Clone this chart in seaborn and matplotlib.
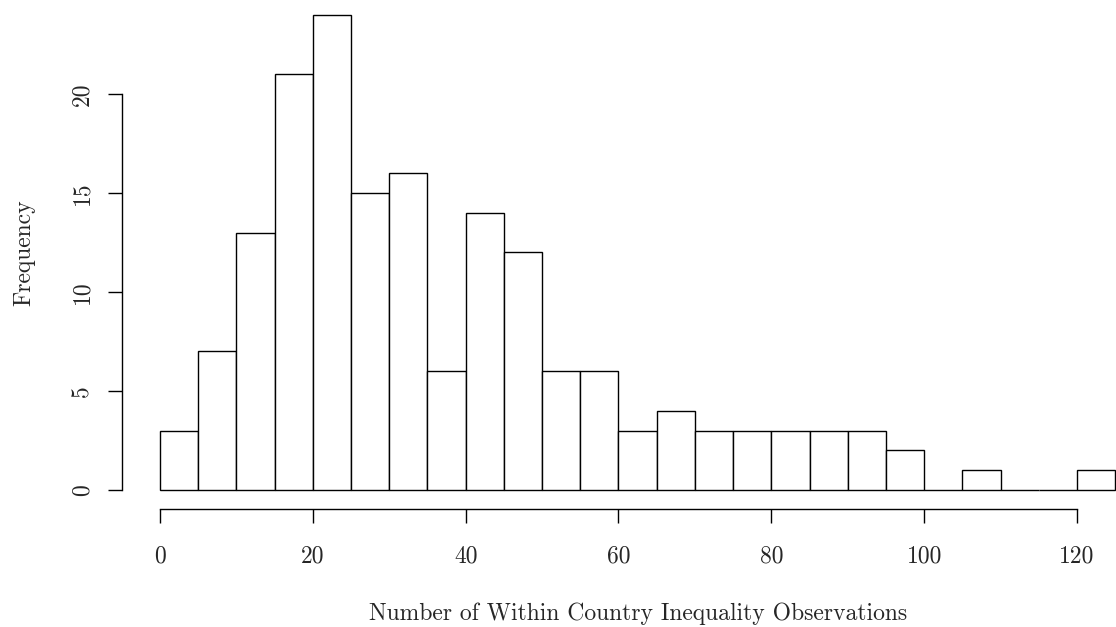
import numpy as np
import matplotlib
matplotlib.use("Agg")
import matplotlib.pyplot as plt
import seaborn as sns

# Data: histogram of observations per country, bins of width 5
bin_edges = [0, 5, 10, 15, 20, 25, 30, 35, 40, 45, 50, 55, 60, 65, 70, 75, 80, 85, 90, 95, 100, 105, 110, 115, 120, 125]
counts = [3, 7, 13, 21, 24, 15, 16, 6, 14, 12, 6, 6, 3, 4, 3, 3, 3, 3, 3, 2, 0, 1, 0, 0, 1]
x_ticks = [0, 20, 40, 60, 80, 100, 120]
y_ticks = [0, 5, 10, 15, 20]
x_label = "Number of Within Country Inequality Observations"
y_label = "Frequency"

sns.set_style("white")
plt.rcParams["font.family"] = ["cmr10", "DejaVu Serif"]
plt.rcParams["mathtext.fontset"] = "cm"
plt.rcParams["axes.unicode_minus"] = False

W, H = 1116, 627
fig = plt.figure(figsize=(W / 100, H / 100), dpi=100)

# R-style plot region: x from -5 to 130, y from -0.96 to 24.96 (4% padding)
px_per_unit_x = (1077 - 160) / 120.0
xmin, xmax = -5.0, 130.0
left_px = 160 + xmin * px_per_unit_x
right_px = 160 + xmax * px_per_unit_x
px_per_unit_y = (490 - 94) / 20.0
ymin, ymax = -0.96, 24.96
bottom_px = 490 - ymin * px_per_unit_y
top_px = 490 - ymax * px_per_unit_y
ax = fig.add_axes([left_px / W, (H - bottom_px) / H,
                   (right_px - left_px) / W, (bottom_px - top_px) / H])

centers = [(a + b) / 2 for a, b in zip(bin_edges[:-1], bin_edges[1:])]
sns.histplot(x=centers, weights=counts, bins=bin_edges, ax=ax,
             color="white", edgecolor="black", linewidth=1.0, alpha=1.0)

ax.set_xlim(xmin, xmax)
ax.set_ylim(ymin, ymax)

for s in ["top", "right"]:
    ax.spines[s].set_visible(False)
ax.spines["left"].set_bounds(0, 20)
ax.spines["bottom"].set_bounds(0, 120)
for s in ["left", "bottom"]:
    ax.spines[s].set_color("black")
    ax.spines[s].set_linewidth(1.0)

FS = 17
ax.set_xticks(x_ticks)
ax.set_yticks(y_ticks)
ax.set_xticklabels([str(t) for t in x_ticks])
ax.set_yticklabels([str(t) for t in y_ticks], rotation=90, va="center")
ax.tick_params(axis="both", which="major", direction="out", length=10.4, width=1.0,
               color="black", labelsize=FS, bottom=True, left=True)
ax.tick_params(axis="x", pad=16)
ax.tick_params(axis="y", pad=10)

ax.set_xlabel(x_label, fontsize=FS, labelpad=25)
ax.set_ylabel(y_label, fontsize=FS, labelpad=26)
ax.grid(False)

fig.savefig("out.png", dpi=100)
